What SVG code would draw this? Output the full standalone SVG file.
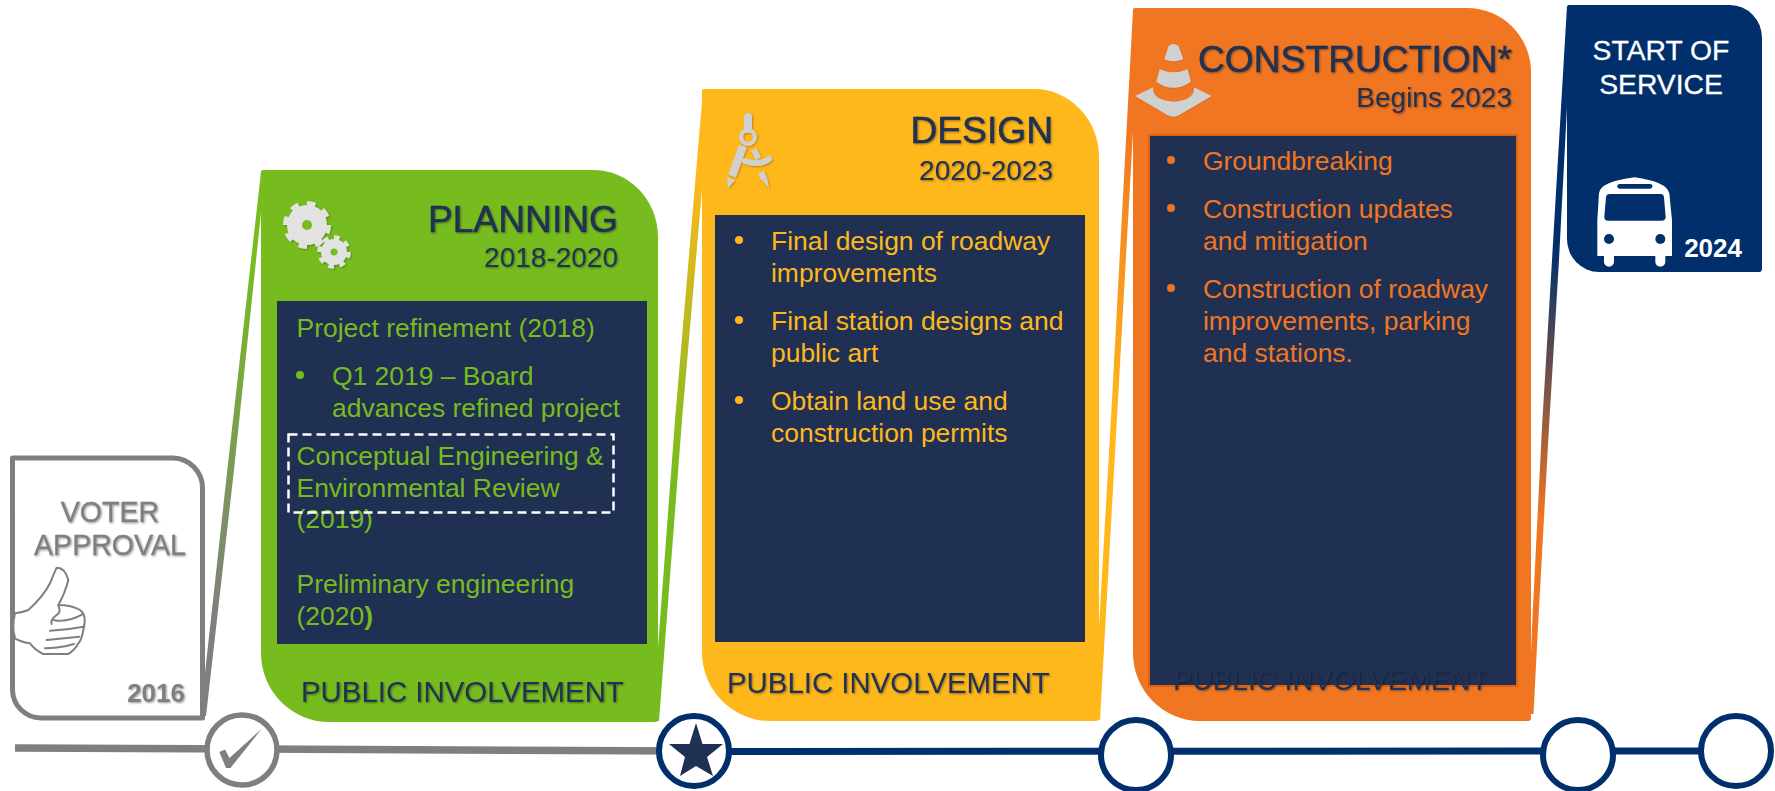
<svg xmlns="http://www.w3.org/2000/svg" width="1775" height="791" viewBox="0 0 1775 791">
<style>
text{font-family:"Liberation Sans",Arial,sans-serif}
.h{font-size:37.2px;fill:#203052;stroke:#203052;stroke-width:.5;text-anchor:end;filter:url(#ts)}
.s{font-size:28px;fill:#203052;text-anchor:end;filter:url(#ts)}
.pi{font-size:29.4px;fill:#203052;filter:url(#ts)}
.b{font-size:26.45px}
.g{fill:#77BC1F}.y{fill:#FFB81C}.o{fill:#F17622}
.grey{font-size:28.6px;fill:#7F7F7F;stroke:#7F7F7F;stroke-width:.3;text-anchor:middle;filter:url(#ts)}
.w{font-size:28.3px;fill:#fff;stroke:#fff;stroke-width:.3;text-anchor:middle}
.box{fill:#203052}
.ring{fill:#fff;stroke:#002F6C;stroke-width:6}
.ic{fill:#D0D0D0}
</style>
<defs>
<filter id="ts" x="-10%" y="-20%" width="120%" height="150%"><feDropShadow dx="1" dy="1" stdDeviation="1" flood-color="#000" flood-opacity=".4"/></filter>
<filter id="is" x="-20%" y="-20%" width="140%" height="140%"><feDropShadow dx="1" dy="1" stdDeviation="1" flood-color="#000" flood-opacity=".3"/></filter>
<linearGradient id="s1" gradientUnits="userSpaceOnUse" x1="0" y1="260" x2="0" y2="620"><stop offset="0" stop-color="#77BC1F"/><stop offset="1" stop-color="#7F7F7F"/></linearGradient>
<linearGradient id="s2" gradientUnits="userSpaceOnUse" x1="0" y1="170" x2="0" y2="480"><stop offset="0" stop-color="#FFB81C"/><stop offset="1" stop-color="#77BC1F"/></linearGradient>
<linearGradient id="s3" gradientUnits="userSpaceOnUse" x1="0" y1="130" x2="0" y2="420"><stop offset="0" stop-color="#F17622"/><stop offset="1" stop-color="#FFB81C"/></linearGradient>
<linearGradient id="s4" gradientUnits="userSpaceOnUse" x1="0" y1="250" x2="0" y2="520"><stop offset="0" stop-color="#002F6C"/><stop offset="1" stop-color="#F17622"/></linearGradient>
</defs>

<g id="connectors">
<polygon points="261,172 261,213 234,470 206,716 200,716 205,673 227.300,470" fill="url(#s1)"/>
<polygon points="703,90 703,178 682,420 659,721 655,721 658,647 675,420" fill="url(#s2)"/>
<polygon points="1133,10 1133,132 1118,400 1100,720 1096,720 1099,627 1112,400" fill="url(#s3)"/>
<polygon points="1567,6 1567,107 1559,260 1549,427 1538,627 1533.500,714 1528,714 1531,653 1532,627 1542,427 1552,260" fill="url(#s4)"/>
<line x1="15" y1="748" x2="694" y2="751" stroke="#7F7F7F" stroke-width="7.500"/>
<line x1="694" y1="751.500" x2="1736" y2="751" stroke="#002F6C" stroke-width="7"/>
</g>

<g id="voter-approval">
<path d="M12.500,458H173A30,30 0 0 1 202.500,488V718H41A28.500,28.500 0 0 1 12.500,690Z" fill="#fff" stroke="#7F7F7F" stroke-width="5" stroke-linejoin="round"/>
<text class="grey" x="110" y="522">VOTER</text>
<text class="grey" x="110" y="555">APPROVAL</text>
<g transform="translate(0 440) scale(.3333)" fill="#fff" stroke="#7F7F7F" stroke-width="6" stroke-linejoin="round" stroke-linecap="round">
<path d="M45,520Q65,518 85,510Q130,470 150,430Q160,405 170,383Q195,382 205,420Q195,460 175,495Q215,495 240,510Q262,525 250,570Q245,600 235,610Q225,630 205,642H130Q105,630 90,610Q60,605 45,595Q35,560 45,520Z"/>
<path d="M175,497Q185,515 170,525Q150,540 155,552M160,540Q200,550 250,522M150,572Q200,570 250,560M140,600Q190,595 238,590M135,625Q175,625 222,612" fill="none"/>
</g>
<text x="185" y="702" font-size="26" font-weight="700" fill="#7F7F7F" text-anchor="end" filter="url(#ts)">2016</text>
</g>

<g id="planning">
<path d="M263,170H593A65,67 0 0 1 658,237V719Q658,722 655,722H329A68,69 0 0 1 261,653V172Q261,170 263,170Z" fill="#77BC1F"/>
<g filter="url(#is)">
<circle cx="307" cy="225" r="20" fill="#E2E2E2"/>
<circle cx="307" cy="225" r="21.500" fill="none" stroke="#E2E2E2" stroke-width="5" pathLength="16" stroke-dasharray="1 1"/>
<circle cx="307" cy="225" r="5" fill="#77BC1F"/>
<circle cx="334" cy="252" r="13" fill="#E2E2E2"/>
<circle cx="334" cy="252" r="14.500" fill="none" stroke="#E2E2E2" stroke-width="4.500" pathLength="16" stroke-dasharray="1 1"/>
<circle cx="334" cy="252" r="3.500" fill="#77BC1F"/>
</g>
<text class="h" x="618" y="232">PLANNING</text>
<text class="s" x="618" y="267">2018-2020</text>
<rect class="box" x="277" y="301" width="370" height="343"/>
<g class="b g">
<text x="296.500" y="337">Project refinement (2018)</text>
<circle cx="300" cy="375" r="4"/>
<text x="332" y="385">Q1 2019 – Board</text>
<text x="332" y="417">advances refined project</text>
<text x="296.500" y="465">Conceptual Engineering &amp;</text>
<text x="296.500" y="497">Environmental Review</text>
<text x="296.500" y="528">(2019)</text>
<text x="296.500" y="593">Preliminary engineering</text>
<text x="296.500" y="625">(2020<tspan font-weight="700">)</tspan></text>
</g>
<rect x="288.500" y="434.500" width="325" height="78" fill="none" stroke="#fff" stroke-width="2.500" stroke-dasharray="9 5"/>
<text class="pi" x="301" y="702">PUBLIC INVOLVEMENT</text>
</g>

<g id="design">
<path d="M704,89H1034A65,68 0 0 1 1099,157V718Q1099,721 1096,721H770A68,69 0 0 1 702,652V91Q702,89 704,89Z" fill="#FFB81C"/>
<g fill="none" stroke="#D0D0D0" stroke-linecap="round" filter="url(#is)">
<line x1="748" y1="117" x2="748" y2="129" stroke-width="8"/>
<circle cx="748" cy="137" r="7" stroke-width="4"/>
<path d="M743,146L732,176" stroke-width="8" stroke-linecap="butt"/>
<path d="M745,161Q760,166 769,159" stroke-width="6"/>
<path d="M755,152L757,156" stroke-width="6" stroke-linecap="square"/>
<path d="M761,172L764,179" stroke-width="6" stroke-linecap="butt"/>
<polygon points="727,177 735,180 728,188" fill="#D0D0D0" stroke="none"/>
<polygon points="762,180 767,178 769,188" fill="#D0D0D0" stroke="none"/>
</g>
<text class="h" x="1053" y="143">DESIGN</text>
<text class="s" x="1053" y="180">2020-2023</text>
<rect class="box" x="715" y="215" width="370" height="427"/>
<g class="b y">
<circle cx="739" cy="240" r="4"/>
<text x="771" y="250">Final design of roadway</text>
<text x="771" y="282">improvements</text>
<circle cx="739" cy="320" r="4"/>
<text x="771" y="330">Final station designs and</text>
<text x="771" y="362">public art</text>
<circle cx="739" cy="400" r="4"/>
<text x="771" y="410">Obtain land use and</text>
<text x="771" y="442">construction permits</text>
</g>
<text class="pi" x="727" y="693">PUBLIC INVOLVEMENT</text>
</g>

<g id="construction">
<path d="M1135,8H1467A64,64 0 0 1 1531,72V718Q1531,721 1528,721H1200A67,68 0 0 1 1133,653V10Q1133,8 1135,8Z" fill="#F17622"/>
<g transform="translate(1120 0) scale(.3333)" class="ic" filter="url(#is)">
<path d="M133,178L146,138Q160,126 176,138L190,178Q160,190 133,178Z"/>
<path d="M109,245L119,208Q160,226 203,208L213,245Q160,282 109,245Z"/>
<path d="M45,288L100,262Q95,300 160,305Q225,300 222,262L275,288L178,345Q160,355 142,345Z"/>
</g>
<text class="h" x="1512" y="72">CONSTRUCTION*</text>
<text class="s" x="1512" y="107">Begins 2023</text>
<rect class="box" x="1149" y="135" width="368" height="551" stroke="#E0610F" stroke-width="2"/>
<g class="b o">
<circle cx="1171" cy="160" r="4"/>
<text x="1203" y="170">Groundbreaking</text>
<circle cx="1171" cy="208" r="4"/>
<text x="1203" y="218">Construction updates</text>
<text x="1203" y="250">and mitigation</text>
<circle cx="1171" cy="288" r="4"/>
<text x="1203" y="298">Construction of roadway</text>
<text x="1203" y="330">improvements, parking</text>
<text x="1203" y="362">and stations.</text>
</g>
<text class="pi" x="1173" y="690" style="font-size:28.7px">PUBLIC INVOLVEMENT</text>
</g>

<g id="start-of-service">
<path d="M1569,5H1730A32,33 0 0 1 1762,38V269Q1762,272 1759,272H1599A32,33 0 0 1 1567,239V7Q1567,5 1569,5Z" fill="#002F6C"/>
<text class="w" x="1661" y="60">START OF</text>
<text class="w" x="1661" y="94">SERVICE</text>
<g transform="translate(1500 0) scale(.3333)">
<path d="M292,660L297,580Q300,545 404,532Q500,545 508,580L516,660V768H496V785A15,15 0 0 1 466,785V768H342V785A15,15 0 0 1 312,785V768H292Z" fill="#fff"/>
<path d="M330,582H482Q491,582 492,592L497,650Q497,662 485,662H325Q312,662 313,650L318,592Q319,582 330,582Z" fill="#002F6C"/>
<rect x="352" y="552" width="105" height="14" rx="7" fill="#002F6C"/>
<circle cx="327" cy="717" r="15" fill="#002F6C"/>
<circle cx="481" cy="717" r="15" fill="#002F6C"/>
</g>
<text x="1742" y="257" font-size="26" font-weight="700" fill="#fff" text-anchor="end">2024</text>
</g>

<g id="milestone-1">
<circle cx="242" cy="750" r="35" fill="#fff" stroke="#7F7F7F" stroke-width="5.500"/>
<polygon points="219.300,752 225,749.500 229.500,758 261.700,728.700 230.500,768 226,768" fill="#7F7F7F"/>
</g>
<g id="milestone-2">
<circle class="ring" cx="694" cy="751" r="35"/>
<polygon points="696,723 702.500,744 723,744 707,757 713,776 696,766 680,776 685,757 669,744 689.500,744" fill="#203052"/>
</g>
<g id="milestone-3"><circle class="ring" cx="1136" cy="755" r="35"/></g>
<g id="milestone-4"><circle class="ring" cx="1578" cy="755" r="35"/></g>
<g id="milestone-5"><circle class="ring" cx="1736" cy="751" r="35"/></g>
</svg>
